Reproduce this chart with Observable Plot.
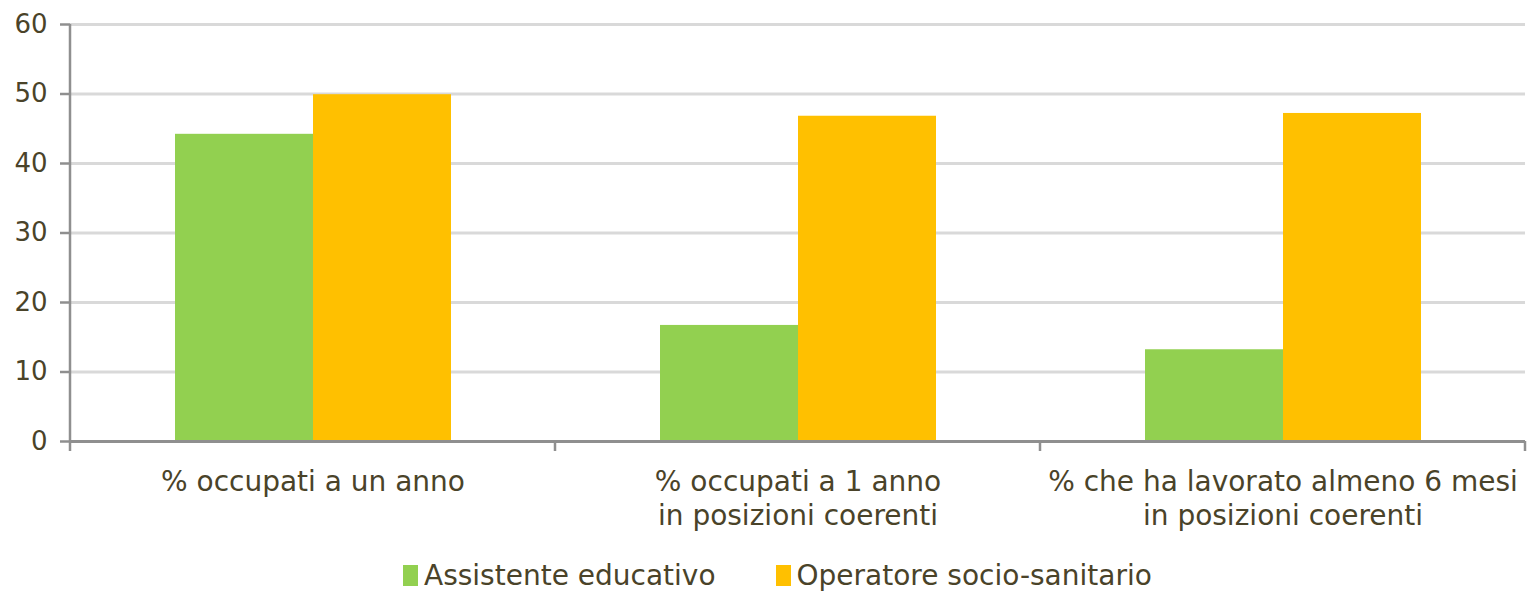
<!DOCTYPE html>
<html>
<head>
<meta charset="utf-8">
<script src="https://cdn.jsdelivr.net/npm/d3@7"></script>
<script src="https://cdn.jsdelivr.net/npm/@observablehq/plot@0.6"></script>
<style>
  html, body { margin: 0; padding: 0; background: #fff; }
  #chart svg { display: block; }
  .legend { display: flex; align-items: center; box-sizing: border-box; height: 51px; padding: 20px 0 0 403px;
    font-family: "DejaVu Sans", sans-serif; font-size: 28px; line-height: 30px; color: #4a4329; }
  .legend .item { display: flex; align-items: center; margin-right: 60px; }
  .legend .sw { width: 15px; height: 21px; margin-right: 6px; }
</style>
</head>
<body>
<div id="chart"></div>
<div class="legend" id="legend"></div>
<script>
const categories = [
  "% occupati a un anno",
  "% occupati a 1 anno\nin posizioni coerenti",
  "% che ha lavorato almeno 6 mesi\nin posizioni coerenti"
];
const series = ["Assistente educativo", "Operatore socio-sanitario"];
const colors = ["#92d050", "#ffc000"];
const assistenteValues = [44.2, 16.7, 13.2];
const operatoreValues = [49.9, 46.8, 47.2];
const yTicks = [0, 10, 20, 30, 40, 50, 60];

const data = [];
categories.forEach((c, i) => {
  data.push({category: c, series: series[0], value: assistenteValues[i]});
  data.push({category: c, series: series[1], value: operatoreValues[i]});
});

const textColor = "#4a4329";
const axisColor = "#8f8f8f";

const plot = Plot.plot({
  width: 1529,
  height: 540,
  marginLeft: 69,
  marginRight: 4,
  marginTop: 24,
  marginBottom: 99,
  style: {fontFamily: "DejaVu Sans, sans-serif", fontSize: "26px", color: textColor, background: "#fff"},
  fx: {domain: categories, padding: 0, label: null, axis: null},
  x: {domain: series, paddingInner: 0, paddingOuter: 0.75, axis: null},
  y: {domain: [0, 60], ticks: yTicks, label: null},
  color: {domain: series, range: colors},
  marks: [
    Plot.gridY(yTicks.filter(d => d > 0), {stroke: "#d9d9d9", strokeOpacity: 1, strokeWidth: 3}),
    Plot.barY(data, {fx: "category", x: "series", y: "value", fill: "series"}),
    Plot.ruleY([0], {stroke: axisColor, strokeWidth: 3}),
    Plot.axisY(yTicks, {tickSize: 10, tickPadding: 13, stroke: axisColor, strokeWidth: 2.5, fill: textColor, fontSize: 26, label: null}),
    Plot.axisFx({anchor: "bottom", tickSize: 0, tickPadding: 26, lineHeight: 1.2, fill: textColor, fontSize: 28, label: null})
  ]
});

document.getElementById("chart").appendChild(plot);

// y axis line and category boundary ticks, using the plot's scales
const fx = plot.scale("fx");
const y = plot.scale("y");
const svg = d3.select(plot);
const y0 = y.apply(0), yTop = y.apply(60);
const bounds = categories.map(c => fx.apply(c));
bounds.push(fx.apply(categories[categories.length - 1]) + fx.bandwidth);
const g = svg.append("g").attr("stroke", axisColor).attr("stroke-width", 2.5);
g.append("line").attr("x1", bounds[0]).attr("x2", bounds[0]).attr("y1", yTop).attr("y2", y0 + 10);
bounds.slice(1).forEach(b => {
  g.append("line").attr("x1", b).attr("x2", b).attr("y1", y0).attr("y2", y0 + 10);
});

// legend
const legend = document.getElementById("legend");
series.forEach((s, i) => {
  const item = document.createElement("div");
  item.className = "item";
  const sw = document.createElement("div");
  sw.className = "sw";
  sw.style.background = colors[i];
  const t = document.createElement("span");
  t.textContent = s;
  item.appendChild(sw); item.appendChild(t);
  legend.appendChild(item);
});
</script>
</body>
</html>
